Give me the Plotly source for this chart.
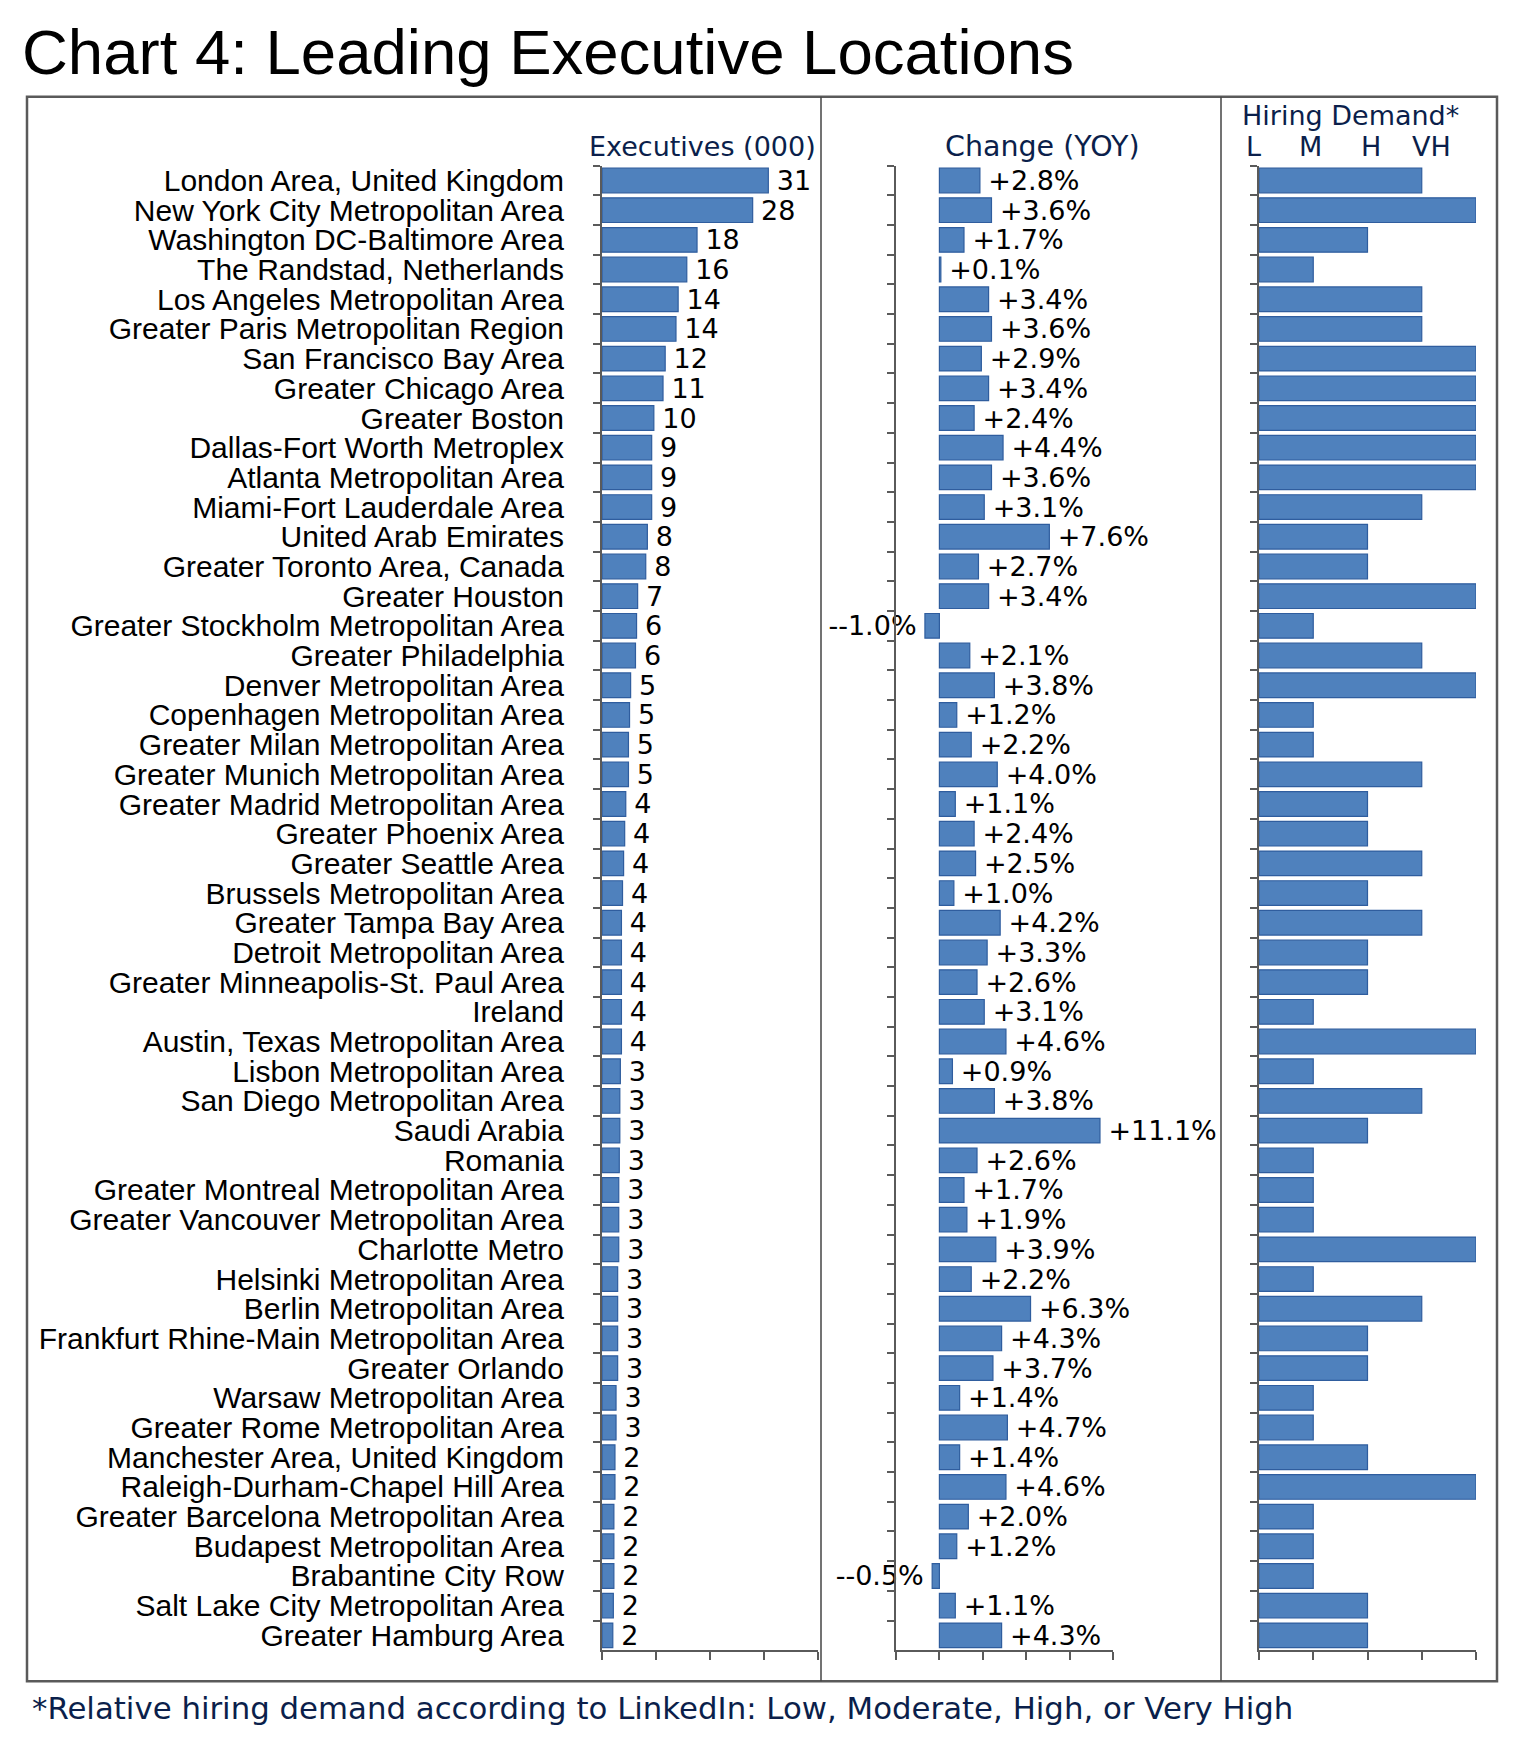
import plotly.graph_objects as go

W, H = 1524, 1749

locations = [
    "London Area, United Kingdom", "New York City Metropolitan Area", "Washington DC-Baltimore Area",
    "The Randstad, Netherlands", "Los Angeles Metropolitan Area", "Greater Paris Metropolitan Region",
    "San Francisco Bay Area", "Greater Chicago Area", "Greater Boston", "Dallas-Fort Worth Metroplex",
    "Atlanta Metropolitan Area", "Miami-Fort Lauderdale Area", "United Arab Emirates",
    "Greater Toronto Area, Canada", "Greater Houston", "Greater Stockholm Metropolitan Area",
    "Greater Philadelphia", "Denver Metropolitan Area", "Copenhagen Metropolitan Area",
    "Greater Milan Metropolitan Area", "Greater Munich Metropolitan Area", "Greater Madrid Metropolitan Area",
    "Greater Phoenix Area", "Greater Seattle Area", "Brussels Metropolitan Area", "Greater Tampa Bay Area",
    "Detroit Metropolitan Area", "Greater Minneapolis-St. Paul Area", "Ireland",
    "Austin, Texas Metropolitan Area", "Lisbon Metropolitan Area", "San Diego Metropolitan Area",
    "Saudi Arabia", "Romania", "Greater Montreal Metropolitan Area", "Greater Vancouver Metropolitan Area",
    "Charlotte Metro", "Helsinki Metropolitan Area", "Berlin Metropolitan Area",
    "Frankfurt Rhine-Main Metropolitan Area", "Greater Orlando", "Warsaw Metropolitan Area",
    "Greater Rome Metropolitan Area", "Manchester Area, United Kingdom", "Raleigh-Durham-Chapel Hill Area",
    "Greater Barcelona Metropolitan Area", "Budapest Metropolitan Area", "Brabantine City Row",
    "Salt Lake City Metropolitan Area", "Greater Hamburg Area",
]

executives_000 = [
    30.8, 27.9, 17.6, 15.7, 14.1, 13.7, 11.7, 11.3, 9.6, 9.2,
    9.2, 9.2, 8.4, 8.1, 6.6, 6.4, 6.2, 5.3, 5.1, 4.9,
    4.9, 4.4, 4.2, 4.0, 3.8, 3.6, 3.6, 3.6, 3.6, 3.6,
    3.4, 3.3, 3.3, 3.2, 3.1, 3.1, 3.1, 2.9, 2.9, 2.9,
    2.9, 2.6, 2.6, 2.4, 2.4, 2.2, 2.2, 2.2, 2.1, 2.0,
]

change_yoy_pct = [
    2.8, 3.6, 1.7, 0.1, 3.4, 3.6, 2.9, 3.4, 2.4, 4.4,
    3.6, 3.1, 7.6, 2.7, 3.4, -1.0, 2.1, 3.8, 1.2, 2.2,
    4.0, 1.1, 2.4, 2.5, 1.0, 4.2, 3.3, 2.6, 3.1, 4.6,
    0.9, 3.8, 11.1, 2.6, 1.7, 1.9, 3.9, 2.2, 6.3, 4.3,
    3.7, 1.4, 4.7, 1.4, 4.6, 2.0, 1.2, -0.5, 1.1, 4.3,
]

# 1 = Low, 2 = Moderate, 3 = High, 4 = Very High
hiring_demand = [
    3, 4, 2, 1, 3, 3, 4, 4, 4, 4,
    4, 3, 2, 2, 4, 1, 3, 4, 1, 1,
    3, 2, 2, 3, 2, 3, 2, 2, 1, 4,
    1, 3, 2, 1, 1, 1, 4, 1, 3, 2,
    2, 1, 1, 2, 4, 1, 1, 1, 2, 2,
]

demand_levels = ["L", "M", "H", "VH"]

BAR = "#4f81bd"
EDGE = "#2f5d9e"
AX = "#5a5a5a"
NAVY = "#0b1f4b"
VAL_FONT = dict(family="DejaVu Sans", size=27, color="black")
THIN = "\u2009"


def px_x(p):
    return p / W


def px_y(p):
    return 1 - p / H


change_text = [
    (THIN + f"+{v:.1f}%") if v >= 0 else (f"-{v:.1f}%" + THIN) for v in change_yoy_pct
]

fig = go.Figure()

fig.add_trace(go.Bar(
    x=executives_000, y=locations, orientation="h", xaxis="x", yaxis="y",
    marker=dict(color=BAR, line=dict(color=EDGE, width=1.2)),
    texttemplate=THIN + "%{x:.0f}", textposition="outside", textfont=VAL_FONT,
    constraintext="none", cliponaxis=False, hoverinfo="skip",
))
fig.add_trace(go.Bar(
    x=change_yoy_pct, y=locations, orientation="h", xaxis="x2", yaxis="y2",
    marker=dict(color=BAR, line=dict(color=EDGE, width=1.2)),
    text=change_text, textposition="outside", textfont=VAL_FONT,
    constraintext="none", cliponaxis=False, hoverinfo="skip",
))
fig.add_trace(go.Bar(
    x=hiring_demand, y=locations, orientation="h", xaxis="x3", yaxis="y3",
    marker=dict(color=BAR, line=dict(color=EDGE, width=1.2)),
    hoverinfo="skip",
))

ydom = [px_y(1652), px_y(164)]
common_y = dict(
    type="category", categoryorder="array", categoryarray=locations,
    range=[len(locations) - 0.5, -0.5], domain=ydom,
    tickmode="linear", tick0=0, dtick=1,
    showline=True, linecolor=AX, linewidth=2, ticks="outside", ticklen=7,
    tickcolor=AX, tickwidth=1.5, tickson="boundaries", showgrid=False, zeroline=False,
)
common_x = dict(
    showline=True, linecolor=AX, linewidth=2, ticks="outside", ticklen=8,
    tickcolor=AX, tickwidth=1.5, showticklabels=False, showgrid=False, zeroline=False,
)

fig.update_layout(
    width=W, height=H, margin=dict(l=0, r=0, t=0, b=0),
    paper_bgcolor="white", plot_bgcolor="white", showlegend=False,
    bargap=0.17,
    xaxis=dict(common_x, domain=[px_x(602), px_x(818)], range=[0, 40], tick0=0, dtick=10, anchor="y"),
    xaxis2=dict(common_x, domain=[px_x(896), px_x(1113)], range=[-3, 12], tick0=-3, dtick=3, anchor="y2"),
    xaxis3=dict(common_x, domain=[px_x(1259), px_x(1476)], range=[0, 4], tick0=0, dtick=1, anchor="y3"),
    yaxis=dict(common_y, anchor="x", showticklabels=True, ticklabelstandoff=30,
               tickfont=dict(family="Liberation Sans, Arial", size=30, color="black")),
    yaxis2=dict(common_y, anchor="x2", showticklabels=False),
    yaxis3=dict(common_y, anchor="x3", showticklabels=False),
)

# frame and dividers
fig.add_shape(type="rect", xref="paper", yref="paper",
              x0=px_x(27), x1=px_x(1497), y0=px_y(1683), y1=px_y(95),
              line=dict(color=AX, width=2.5))
for xd in (821, 1221):
    fig.add_shape(type="line", xref="paper", yref="paper",
                  x0=px_x(xd), x1=px_x(xd), y0=px_y(1683), y1=px_y(95),
                  line=dict(color="#444444", width=1.5))

HDR = dict(family="DejaVu Sans", size=27, color=NAVY)
ann = [
    dict(text="Chart 4: Leading Executive Locations", x=px_x(20), y=px_y(50), xanchor="left",
         yanchor="middle", font=dict(family="Liberation Sans, Arial", size=63.5, color="black")),
    dict(text="Executives (000)", x=px_x(702), y=px_y(145), xanchor="center", yanchor="middle", font=HDR),
    dict(text="Change (YOY)", x=px_x(1042), y=px_y(145), xanchor="center", yanchor="middle",
         font=dict(HDR, size=28.5)),
    dict(text="Hiring Demand*", x=px_x(1240), y=px_y(114), xanchor="left", yanchor="middle", font=HDR),
    dict(text="*Relative hiring demand according to LinkedIn: Low, Moderate, High, or Very High",
         x=px_x(30), y=px_y(1710), xanchor="left", yanchor="middle",
         font=dict(family="DejaVu Sans", size=30.8, color=NAVY)),
]
for lvl, xc in zip(demand_levels, (1253, 1310, 1371, 1431)):
    ann.append(dict(text=lvl, x=px_x(xc), y=px_y(145), xanchor="center", yanchor="middle", font=HDR))
for a in ann:
    a.update(xref="paper", yref="paper", showarrow=False)
fig.update_layout(annotations=ann)

fig.write_html("out.html", config={"displayModeBar": False},
               post_script="document.body.style.margin='0';")
